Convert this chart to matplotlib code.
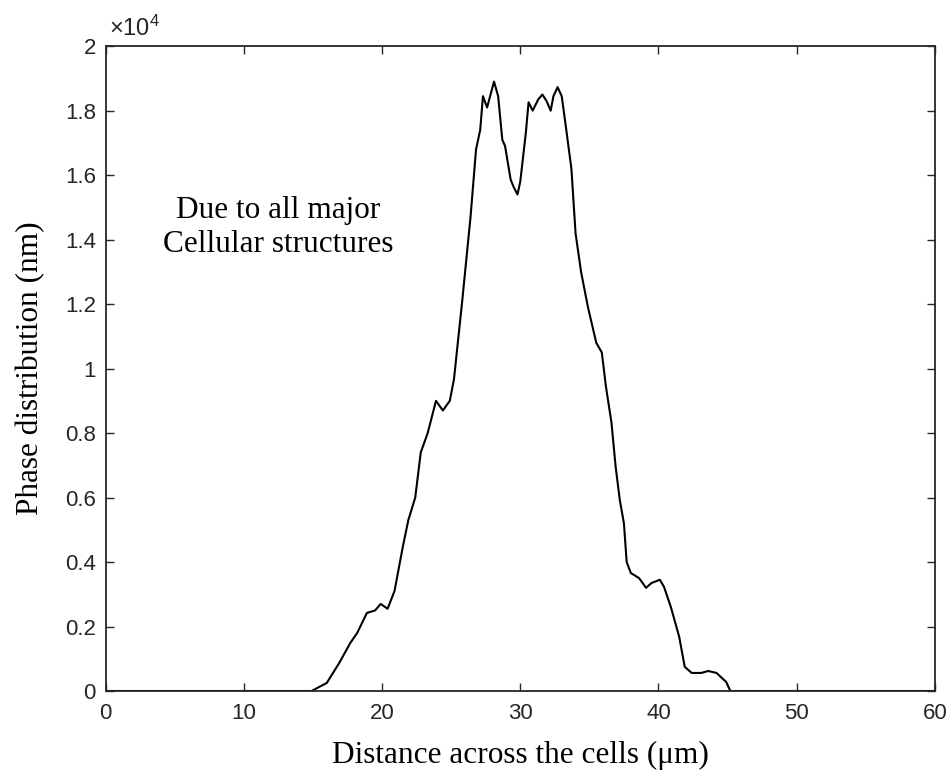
import numpy as np
import matplotlib.pyplot as plt
from matplotlib.ticker import FuncFormatter

# profile
distance = [0, 14.9, 16.0, 16.9, 17.7, 18.2, 18.9, 19.5, 19.9, 20.4, 20.9, 21.5, 21.9,
            22.4, 22.8, 23.3, 23.9, 24.4, 24.9, 25.2, 25.8, 26.4, 26.8, 27.1, 27.3,
            27.6, 28.1, 28.4, 28.7, 28.9, 29.3, 29.5, 29.8, 30.0, 30.4, 30.6, 30.9,
            31.3, 31.6, 31.9, 32.2, 32.4, 32.7, 33.0, 33.3, 33.7, 34.0, 34.4, 34.9,
            35.5, 35.9, 36.2, 36.6, 36.9, 37.2, 37.5, 37.7, 38.0, 38.6, 39.1, 39.5,
            40.1, 40.4, 40.9, 41.5, 41.9, 42.4, 43.1, 43.6, 44.2, 44.9, 45.2, 60]
phase = [0, 0, 250, 870, 1490, 1800, 2420, 2500, 2700, 2550, 3100, 4470, 5300,
         6000, 7400, 8000, 9000, 8700, 9000, 9660, 12100, 14700, 16800, 17400, 18450,
         18100, 18900, 18450, 17100, 16900, 15870, 15650, 15400, 15800, 17300, 18260, 18000,
         18350, 18500, 18300, 18000, 18450, 18730, 18450, 17500, 16200, 14200, 13000, 11900,
         10800, 10500, 9440, 8320, 6960, 5930, 5200, 4000, 3660, 3500, 3200, 3350,
         3450, 3230, 2600, 1680, 750, 560, 560, 620, 560, 280, 0, 0]

xticks = [0, 10, 20, 30, 40, 50, 60]
yticks = [0, 2000, 4000, 6000, 8000, 10000, 12000, 14000, 16000, 18000, 20000]

serif = 'Liberation Serif'
sans = 'Liberation Sans'
tick_col = '#262626'

plt.rcParams['mathtext.fontset'] = 'custom'
plt.rcParams['mathtext.rm'] = sans
plt.rcParams['mathtext.it'] = sans

fig = plt.figure(figsize=(9.52, 7.75), dpi=100)
ax = fig.add_axes([0.111, 0.1084, 0.871, 0.832])

ax.plot(distance, phase, color='black', linewidth=1.5)

ax.set_xlim(0, 60)
ax.set_ylim(0, 20000)
ax.set_xticks(xticks)
ax.set_yticks(yticks)
ax.yaxis.set_major_formatter(FuncFormatter(lambda v, p: f'{v / 1e4:g}'))

ax.tick_params(direction='in', length=6, width=1.0, colors=tick_col,
               labelsize=16, top=True, right=True)
ax.tick_params(axis='x', pad=9)
ax.tick_params(axis='y', pad=7)
for lab in ax.get_xticklabels() + ax.get_yticklabels():
    lab.set_fontfamily(sans)
for s in ax.spines.values():
    s.set_linewidth(1.3)
    s.set_color(tick_col)

ax.text(0.004, 1.008, r'$\times\mathrm{10}^{4}$', transform=ax.transAxes, fontsize=17,
        color=tick_col, ha='left', va='bottom')

ax.set_xlabel('Distance across the cells (\u03bcm)', fontsize=22.5, family=serif, labelpad=12)
ax.set_ylabel('Phase distribution (nm)', fontsize=22.5, family=serif, labelpad=14)

ax.text(12.5, 14380, 'Due to all major\nCellular structures', fontsize=22.5,
        family=serif, ha='center', va='center', linespacing=1.2)

fig.savefig('out.png', dpi=100)
